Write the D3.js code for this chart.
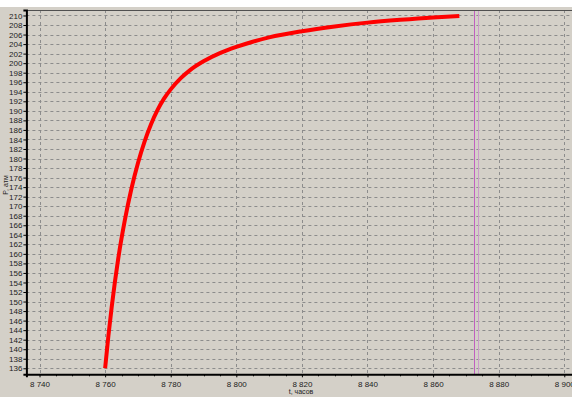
<!DOCTYPE html>
<html><head><meta charset="utf-8">
<script src="https://cdn.jsdelivr.net/npm/d3@7"></script>
<style>
html,body{margin:0;padding:0;background:#fff;}
svg{display:block;}
text{font-family:Arial,"Liberation Sans",sans-serif;}
</style></head>
<body>
<script>
const tValues = [8760, 8761, 8762, 8763, 8764, 8766, 8768, 8770, 8772, 8774, 8776, 8778, 8780, 8783, 8786, 8790, 8795, 8800, 8805, 8810, 8820, 8830, 8840, 8850, 8860, 8868];
const pValues = [136, 142.8, 148.8, 154.2, 159.0, 167.0, 173.6, 179.0, 183.5, 187.2, 190.2, 192.6, 194.5, 196.8, 198.6, 200.4, 202.1, 203.4, 204.5, 205.4, 206.7, 207.7, 208.5, 209.1, 209.6, 209.9];
const xTicks = [8740, 8760, 8780, 8800, 8820, 8840, 8860, 8880, 8900];
const yTicks = d3.range(136, 211, 2);
const markerLines = [8872.6, 8873.7];
const markerColors = ["#c060c0", "#cc9acc"];
const xTitle = "t, часов";
const yTitle = "P, атм";

const W = 572, H = 397;
const svg = d3.select("body").append("svg").attr("width", W).attr("height", H);
svg.append("rect").attr("x",0).attr("y",0).attr("width",W).attr("height",H).attr("fill","#fff");
svg.append("rect").attr("x",0).attr("y",7).attr("width",W).attr("height",H-7).attr("fill","#d4d0c8");

const pLeft = 26.4, pTop = 10, pBottom = 374.3;
const x = d3.scaleLinear().domain([8736, 8904]).range([pLeft, 577.4]);
const y = d3.scaleLinear().domain([134.74, 211.15]).range([pBottom, pTop]);
const fmt = v => d3.format(",")(v).replace(/,/g, " ");

const grid = svg.append("g");
grid.selectAll("line.h").data(yTicks).enter().append("line")
  .attr("x1", pLeft).attr("x2", W).attr("y1", d => Math.round(y(d))+0.5).attr("y2", d => Math.round(y(d))+0.5)
  .attr("stroke", "#8c8c8c").attr("stroke-width", 1).attr("stroke-dasharray", "3,3");
grid.selectAll("line.v").data(xTicks).enter().append("line")
  .attr("y1", pTop).attr("y2", pBottom).attr("x1", d => Math.round(x(d))+0.5).attr("x2", d => Math.round(x(d))+0.5)
  .attr("stroke", "#8c8c8c").attr("stroke-width", 1).attr("stroke-dasharray", "3,3");

svg.selectAll("line.m").data(markerLines).enter().append("line")
  .attr("x1", d => Math.round(x(d))+0.5).attr("x2", d => Math.round(x(d))+0.5)
  .attr("y1", pTop).attr("y2", pBottom)
  .attr("stroke", (d,i) => markerColors[i]).attr("stroke-width", 1);

svg.append("line").attr("x1", pLeft).attr("x2", W).attr("y1", pTop+0.5).attr("y2", pTop+0.5)
  .attr("stroke", "#505050").attr("stroke-width", 1);

const yAxis = d3.axisLeft(y).tickValues(yTicks).tickSize(3).tickFormat(d3.format("d"));
const gy = svg.append("g").attr("transform", `translate(${pLeft},0)`).call(yAxis);
gy.select(".domain").attr("stroke", "#000").attr("stroke-width", 2);
gy.selectAll(".tick line").attr("stroke", "#000");
gy.selectAll(".tick text").attr("font-size", 8).attr("fill", "#222").attr("x", -4);

const xAxis = d3.axisBottom(x).tickValues(xTicks).tickSize(3).tickFormat(fmt);
const gx = svg.append("g").attr("transform", `translate(0,${pBottom})`).call(xAxis);
gx.select(".domain").attr("stroke", "#000").attr("stroke-width", 2);
gx.selectAll(".tick line").attr("stroke", "#000");
gx.selectAll(".tick text").attr("font-size", 8).attr("fill", "#222").attr("dy", "0.9em");
const minor = d3.range(8740, 8905, 5).filter(v => v % 20 !== 0);
gx.selectAll("line.minor").data(minor).enter().append("line")
  .attr("x1", d => Math.round(x(d))+0.5).attr("x2", d => Math.round(x(d))+0.5)
  .attr("y1", 0).attr("y2", 2).attr("stroke", "#000");

const pts = tValues.map((t,i) => [t, pValues[i]]);
svg.append("path").datum(pts)
  .attr("d", d3.line().x(d => x(d[0])).y(d => y(d[1])).curve(d3.curveMonotoneX))
  .attr("fill", "none").attr("stroke", "#ff0000").attr("stroke-width", 4);

svg.append("text").attr("x", 301).attr("y", 394).attr("text-anchor", "middle")
  .attr("font-size", 7).attr("fill", "#222").text(xTitle);
svg.append("text").attr("transform", "translate(8,185) rotate(-90)").attr("text-anchor", "middle")
  .attr("font-size", 7).attr("fill", "#222").text(yTitle);
</script>
</body></html>
